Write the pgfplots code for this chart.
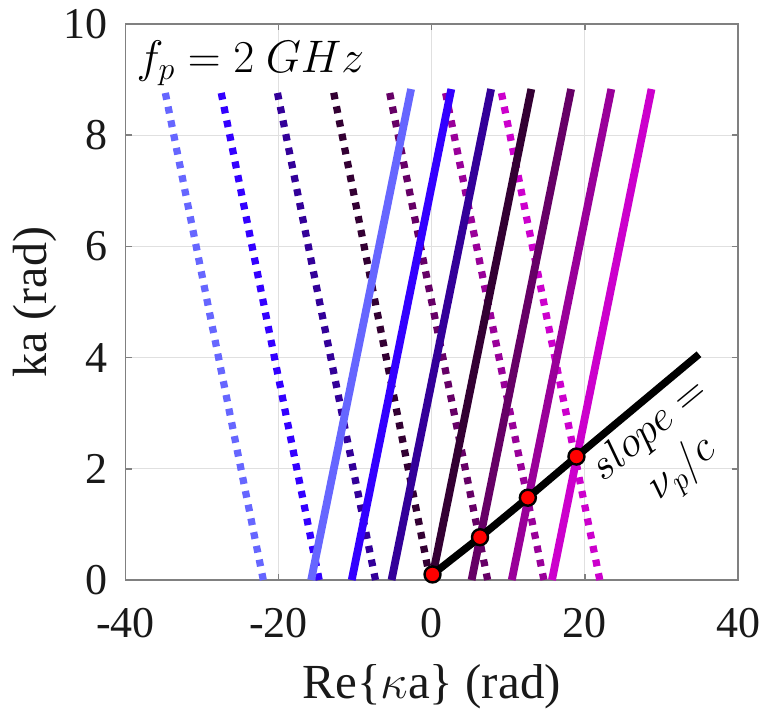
\RequirePackage{fix-cm}
\documentclass[border=0pt]{standalone}
\usepackage{fontspec}
\setmainfont{Liberation Serif}
\usepackage{graphicx}
\usepackage{pgfplots}
\pgfplotsset{compat=1.18}
\definecolor{c1}{HTML}{6666FF}
\definecolor{c2}{HTML}{3300FF}
\definecolor{c3}{HTML}{330099}
\definecolor{c4}{HTML}{330033}
\definecolor{c5}{HTML}{660066}
\definecolor{c6}{HTML}{990099}
\definecolor{c7}{HTML}{CC00CC}
\begin{document}
\begin{tikzpicture}
\begin{axis}[at={(0,0)}, anchor=south west, scale only axis,
  width=306.25pt, height=278pt,
  xmin=-40, xmax=40, ymin=0, ymax=10,
  xtick={-40,-20,0,20,40}, xticklabels={\textrm{-40},\textrm{-20},\textrm{0},\textrm{20},\textrm{40}},
  ytick={0,2,4,6,8,10}, yticklabels={\textrm{0},\textrm{2},\textrm{4},\textrm{6},\textrm{8},\textrm{10}},
  tick align=inside, major tick length=3pt,
  xtick pos=both, ytick pos=both,
  grid=major, grid style={color=black!12, line width=0.5pt},
  axis line style={color=black!50, line width=0.7pt},
  tick style={color=black!50, line width=0.7pt},
  ticklabel style={font=\fontsize{22}{22}\selectfont, text=black!90, inner sep=0pt},
  xticklabel style={anchor=north, yshift=-14pt},
  yticklabel style={anchor=east, xshift=-8.75pt},
]
% dotted lines
\addplot[c1, line width=3.6pt, dash pattern=on 3.4pt off 3.6pt] coordinates {(-22.0,0) (-34.9,8.83)};
\addplot[c2, line width=3.6pt, dash pattern=on 3.4pt off 3.6pt] coordinates {(-14.7,0) (-27.6,8.83)};
\addplot[c3, line width=3.6pt, dash pattern=on 3.4pt off 3.6pt] coordinates {(-7.35,0) (-20.25,8.83)};
\addplot[c4, line width=3.6pt, dash pattern=on 3.4pt off 3.6pt] coordinates {(-0.2,0) (-12.9,8.83)};
\addplot[c5, line width=3.6pt, dash pattern=on 3.4pt off 3.6pt] coordinates {(7.3,0) (-5.6,8.83)};
\addplot[c6, line width=3.6pt, dash pattern=on 3.4pt off 3.6pt] coordinates {(14.65,0) (1.7,8.83)};
\addplot[c7, line width=3.6pt, dash pattern=on 3.4pt off 3.6pt] coordinates {(21.95,0) (9.0,8.83)};
% solid lines
\addplot[c1, line width=3.9pt] coordinates {(-15.75,0) (-2.7,8.83)};
\addplot[c2, line width=3.9pt] coordinates {(-10.45,0) (2.55,8.83)};
\addplot[c3, line width=3.9pt] coordinates {(-5.25,0) (7.75,8.83)};
\addplot[c4, line width=3.9pt] coordinates {(0.0,0) (13.0,8.83)};
\addplot[c5, line width=3.9pt] coordinates {(5.2,0) (18.2,8.83)};
\addplot[c6, line width=3.9pt] coordinates {(10.45,0) (23.45,8.83)};
\addplot[c7, line width=3.9pt] coordinates {(15.7,0) (28.7,8.83)};
% light line
\addplot[black, line width=3.7pt, line join=round] coordinates {(0.1,0.1) (6.3,0.77) (12.55,1.48) (18.9,2.22) (34.9,4.06)};
\addplot[only marks, mark=*, mark size=4.0pt, mark options={fill=red, draw=black, line width=1.2pt}] coordinates {(0.1,0.1) (6.3,0.77) (12.55,1.48) (18.9,2.22)};
\node[anchor=base west, font=\fontsize{22.8}{22.8}\selectfont, inner sep=0pt] at (axis cs:-38.6,9.12) {$f_p = 2\ GHz$};
\node[rotate=39.5, align=center, font=\fontsize{21.5}{25}\selectfont, inner sep=0pt] at (axis cs:30.75,2.32) {$slope =$\\$\nu_p/c$};
\end{axis}
\node[anchor=base, inner sep=0pt, font=\fontsize{24.5}{24.5}\selectfont, text=black!90] at (153.125pt,-59pt) {Re\{$\kappa$a\} (rad)};
\node[anchor=base, rotate=90, inner sep=0pt, font=\fontsize{24}{24}\selectfont, text=black!90] at (-39.4pt,139pt) {ka (rad)};
\pgfresetboundingbox
\path[use as bounding box] (-62.75pt,-68.5pt) rectangle (318.75pt,290pt);
\end{tikzpicture}
\end{document}
